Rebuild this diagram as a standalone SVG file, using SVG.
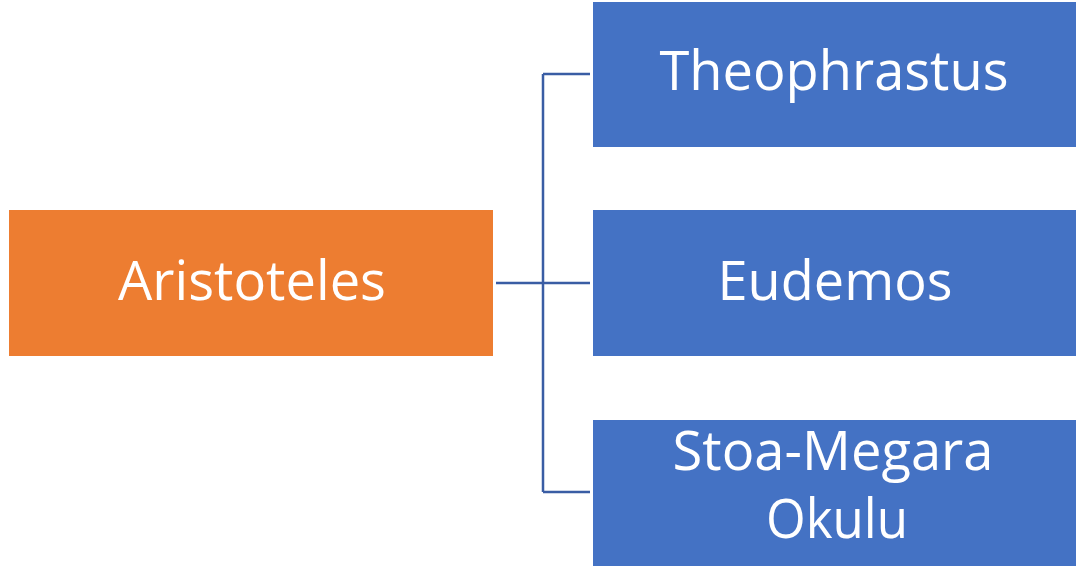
<svg xmlns="http://www.w3.org/2000/svg" width="1078" height="568" viewBox="0 0 1078 568">
<style>
.lbl{font-family:"Open Sans","Liberation Sans",sans-serif;font-size:54px;fill:#fff;text-anchor:middle}
.conn{stroke:#3A5DA4;stroke-width:2.5;fill:none}
</style>
<rect width="1078" height="568" fill="#fff"/>
<g id="connectors">
<path class="conn" d="M496 283H590M543 74V492M543 74H590M543 492H590"/>
</g>
<g id="aristoteles">
<rect x="9" y="210" width="484" height="146" fill="#ED7D31"/>
<text class="lbl" x="252" y="300" textLength="268" lengthAdjust="spacingAndGlyphs">Aristoteles</text>
</g>
<g id="theophrastus">
<rect x="593" y="2" width="483" height="145" fill="#4472C4"/>
<text class="lbl" x="834" y="90" textLength="349" lengthAdjust="spacingAndGlyphs">Theophrastus</text>
</g>
<g id="eudemos">
<rect x="593" y="210" width="483" height="146" fill="#4472C4"/>
<text class="lbl" x="835" y="300" textLength="235" lengthAdjust="spacingAndGlyphs">Eudemos</text>
</g>
<g id="stoa">
<rect x="593" y="420" width="483" height="146" fill="#4472C4"/>
<text class="lbl" x="833" y="470" textLength="321" lengthAdjust="spacingAndGlyphs">Stoa-Megara</text>
<text class="lbl" x="837" y="538" textLength="142" lengthAdjust="spacingAndGlyphs">Okulu</text>
</g>
</svg>
